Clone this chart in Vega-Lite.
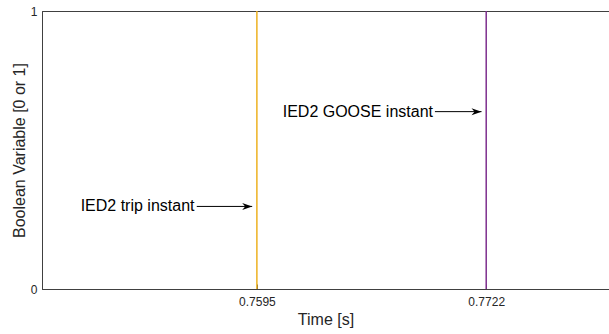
{
  "$schema": "https://vega.github.io/schema/vega-lite/v6.json",
  "autosize": "none",
  "width": 567,
  "height": 278,
  "padding": {"left": 42, "top": 11, "right": 0, "bottom": 45},
  "background": "white",
  "config": {
    "font": "Liberation Sans",
    "view": {"stroke": "#404040", "strokeWidth": 1},
    "axis": {
      "domainColor": "#404040",
      "tickColor": "#404040",
      "labelColor": "#262626",
      "titleColor": "#262626",
      "labelFont": "Liberation Sans",
      "titleFont": "Liberation Sans",
      "labelFontSize": 12,
      "titleFontSize": 16,
      "titleFontWeight": "normal",
      "grid": false,
      "tickSize": -5
    }
  },
  "datasets": {
    "events": [
      {"t": 0.7595, "y0": 0, "y1": 1, "event": "IED2 trip"},
      {"t": 0.7722, "y0": 0, "y1": 1, "event": "IED2 GOOSE"}
    ],
    "notes": [
      {"label": "IED2 trip instant", "tx": 0.74974, "x0": 0.75617, "x1": 0.75924, "y": 0.297},
      {"label": "IED2 GOOSE instant", "tx": 0.76093, "x0": 0.76936, "x1": 0.77194, "y": 0.638}
    ]
  },
  "layer": [
    {
      "data": {"name": "events"},
      "mark": {"type": "rule", "strokeWidth": 1.5},
      "encoding": {
        "x": {
          "field": "t", "type": "quantitative",
          "scale": {"domain": [0.7476, 0.779], "zero": false, "nice": false},
          "axis": {"title": "Time [s]", "values": [0.7595, 0.7722], "format": ".4f", "labelPadding": 12, "titlePadding": 4}
        },
        "y": {
          "field": "y0", "type": "quantitative",
          "scale": {"domain": [0, 1], "nice": false},
          "axis": {"title": "Boolean Variable [0 or 1]", "values": [0, 1], "format": "d", "labelPadding": 10, "titlePadding": 3}
        },
        "y2": {"field": "y1"},
        "color": {
          "field": "event", "type": "nominal",
          "scale": {"domain": ["IED2 trip", "IED2 GOOSE"], "range": ["#EDB120", "#7E2F8E"]},
          "legend": null
        }
      }
    },
    {
      "data": {"name": "notes"},
      "mark": {"type": "rule", "color": "black", "strokeWidth": 1},
      "encoding": {
        "x": {"field": "x0", "type": "quantitative"},
        "x2": {"field": "x1"},
        "y": {"field": "y", "type": "quantitative"}
      }
    },
    {
      "data": {"name": "notes"},
      "mark": {"type": "point", "shape": "M0,0L-1,-0.35L-0.7,0L-1,0.35Z", "filled": true, "color": "black", "opacity": 1, "size": 400},
      "encoding": {
        "x": {"field": "x1", "type": "quantitative"},
        "y": {"field": "y", "type": "quantitative"}
      }
    },
    {
      "data": {"name": "notes"},
      "mark": {"type": "text", "align": "left", "baseline": "middle", "fontSize": 16, "color": "black", "font": "Liberation Sans"},
      "encoding": {
        "x": {"field": "tx", "type": "quantitative"},
        "y": {"field": "y", "type": "quantitative"},
        "text": {"field": "label"}
      }
    }
  ]
}
